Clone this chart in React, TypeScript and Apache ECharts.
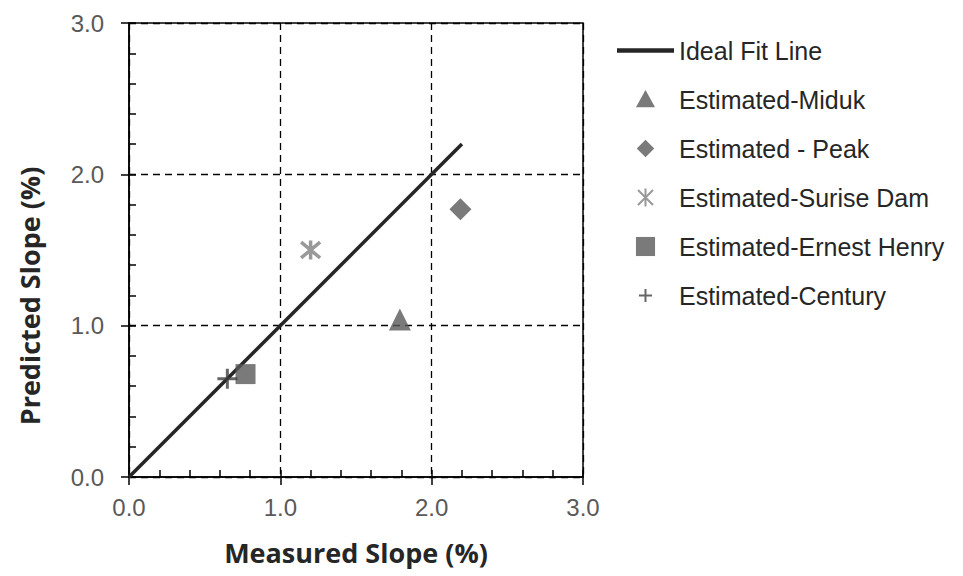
import React, { useEffect, useRef } from "react";
import * as echarts from "echarts";

const seriesNames = [
  "Ideal Fit Line",
  "Estimated-Miduk",
  "Estimated - Peak",
  "Estimated-Surise Dam",
  "Estimated-Ernest Henry",
  "Estimated-Century",
];

const idealFitX = [0, 2.2];
const idealFitY = [0, 2.2];
const midukX = [1.79];
const midukY = [1.04];
const peakX = [2.19];
const peakY = [1.77];
const suriseDamX = [1.2];
const suriseDamY = [1.5];
const ernestHenryX = [0.77];
const ernestHenryY = [0.68];
const centuryX = [0.65];
const centuryY = [0.65];

const xTickLabels = ["0.0", "1.0", "2.0", "3.0"];
const yTickLabels = ["0.0", "1.0", "2.0", "3.0"];

const xTitle = "Measured Slope (%)";
const yTitle = "Predicted Slope (%)";

const zip = (xs: number[], ys: number[]) => xs.map((x, i) => [x, ys[i]]);

const STAR_PATH = "path://M0,0L10,10M10,0L0,10M5,-1L5,11";
const PLUS_PATH = "path://M5,0L5,10M0,5L10,5";

const LEGEND_LINE = "path://M0,0L100,0L100,7.5L0,7.5Z";
const LEGEND_TRIANGLE = "path://M-0.5,-0.5M5,0L10,9L0,9ZM10.5,10.5";
const LEGEND_DIAMOND = "path://M-1,-1M5,0L10,5L5,10L0,5ZM11,11";
const LEGEND_RECT = "path://M-0.5,-0.5M0,0L10,0L10,10L0,10ZM10.5,10.5";
const LEGEND_STAR = "path://M-2,-2M0,0L10,10M10,0L0,10M5,-1L5,11M12,12";
const LEGEND_PLUS = "path://M-3,-3M5,0L5,10M0,5L10,5M13,13";

export default function App() {
  const ref = useRef<HTMLDivElement>(null);

  useEffect(() => {
    if (!ref.current) return;
    const chart = echarts.init(ref.current, undefined, { renderer: "svg" });

    const axisLineStyle = { color: "#000", width: 1.5 };
    const labelFont = {
      color: "#595959",
      fontSize: 24,
      fontFamily: "Liberation Sans, Arial, sans-serif",
    };
    const titleFont = {
      color: "#262626",
      fontSize: 27,
      fontWeight: "bold" as const,
      fontFamily: "Open Sans, Noto Sans, sans-serif",
    };
    const markerColor = "#595959";

    const option: any = {
      animation: false,
      backgroundColor: "#ffffff",
      grid: {
        left: 129,
        top: 23,
        width: 454,
        height: 454,
        show: true,
        borderColor: "#000",
        borderWidth: 1.5,
        backgroundColor: "transparent",
      },
      xAxis: [
        {
          type: "value",
          min: 0,
          max: 3,
          interval: 1,
          position: "bottom",
          axisLine: { show: true, onZero: false, lineStyle: axisLineStyle },
          axisTick: { show: true, inside: false, length: 8, lineStyle: axisLineStyle },
          axisLabel: {
            ...labelFont,
            margin: 18,
            formatter: (v: number) => xTickLabels[Math.round(v)] ?? "",
          },
          splitLine: { show: true, lineStyle: { color: "#000", type: [7, 5], width: 1.3 } },
          name: xTitle,
          nameLocation: "middle",
          nameGap: 62,
          nameTextStyle: titleFont,
        },
        {
          type: "value",
          min: 0,
          max: 3,
          interval: 0.2,
          position: "bottom",
          axisLine: { show: false },
          axisTick: { show: true, inside: true, length: 7, lineStyle: axisLineStyle },
          axisLabel: { show: false },
          splitLine: { show: false },
        },
      ],
      yAxis: [
        {
          type: "value",
          min: 0,
          max: 3,
          interval: 1,
          position: "left",
          axisLine: { show: true, onZero: false, lineStyle: axisLineStyle },
          axisTick: { show: true, inside: false, length: 8, lineStyle: axisLineStyle },
          axisLabel: {
            ...labelFont,
            margin: 25,
            formatter: (v: number) => yTickLabels[Math.round(v)] ?? "",
          },
          splitLine: { show: true, lineStyle: { color: "#000", type: [7, 5], width: 1.3 } },
        },
        {
          type: "value",
          min: 0,
          max: 3,
          interval: 0.2,
          position: "left",
          axisLine: { show: false },
          axisTick: { show: true, inside: true, length: 7, lineStyle: axisLineStyle },
          axisLabel: { show: false },
          splitLine: { show: false },
        },
      ],
      legend: {
        orient: "vertical",
        left: 617,
        top: 38,
        padding: 0,
        itemWidth: 57,
        itemHeight: 21,
        itemGap: 24,
        symbolKeepAspect: true,
        textStyle: {
          fontSize: 25,
          lineHeight: 24,
          color: "#262626",
          fontFamily: "Liberation Sans, Arial, sans-serif",
        },
        data: [
          { name: seriesNames[0], icon: LEGEND_LINE },
          { name: seriesNames[1], icon: LEGEND_TRIANGLE },
          { name: seriesNames[2], icon: LEGEND_DIAMOND },
          { name: seriesNames[3], icon: LEGEND_STAR },
          { name: seriesNames[4], icon: LEGEND_RECT },
          { name: seriesNames[5], icon: LEGEND_PLUS },
        ],
      },
      graphic: [
        {
          type: "text",
          x: 29,
          y: 296,
          rotation: Math.PI / 2,
          style: {
            text: yTitle,
            align: "center",
            verticalAlign: "middle",
            fill: "#262626",
            fontSize: 27,
            fontWeight: "bold",
            fontFamily: "Open Sans, Noto Sans, sans-serif",
          },
        },
      ],
      series: [
        {
          name: seriesNames[0],
          type: "line",
          data: zip(idealFitX, idealFitY),
          symbol: "none",
          lineStyle: { color: "#262626", width: 3.5 },
          itemStyle: { color: "#262626" },
          z: 2,
        },
        {
          name: seriesNames[1],
          type: "scatter",
          data: zip(midukX, midukY),
          symbol: "triangle",
          symbolSize: 22,
          itemStyle: { color: markerColor },
          z: 3,
        },
        {
          name: seriesNames[2],
          type: "scatter",
          data: zip(peakX, peakY),
          symbol: "diamond",
          symbolSize: 22,
          itemStyle: { color: markerColor },
          z: 3,
        },
        {
          name: seriesNames[3],
          type: "scatter",
          data: zip(suriseDamX, suriseDamY),
          symbol: STAR_PATH,
          symbolSize: 19,
          itemStyle: { color: "transparent", borderColor: "#808080", borderWidth: 3.5 },
          z: 3,
        },
        {
          name: seriesNames[4],
          type: "scatter",
          data: zip(ernestHenryX, ernestHenryY),
          symbol: "rect",
          symbolSize: 20,
          itemStyle: { color: markerColor },
          z: 3,
        },
        {
          name: seriesNames[5],
          type: "scatter",
          data: zip(centuryX, centuryY),
          symbol: PLUS_PATH,
          symbolSize: 20,
          itemStyle: { color: "transparent", borderColor: "#404040", borderWidth: 3 },
          z: 3,
        },
      ],
    };

    chart.setOption(option);
    return () => chart.dispose();
  }, []);

  return (
    <div
      ref={ref}
      style={{ position: "absolute", left: 0, top: 0, width: 963, height: 576 }}
    />
  );
}
